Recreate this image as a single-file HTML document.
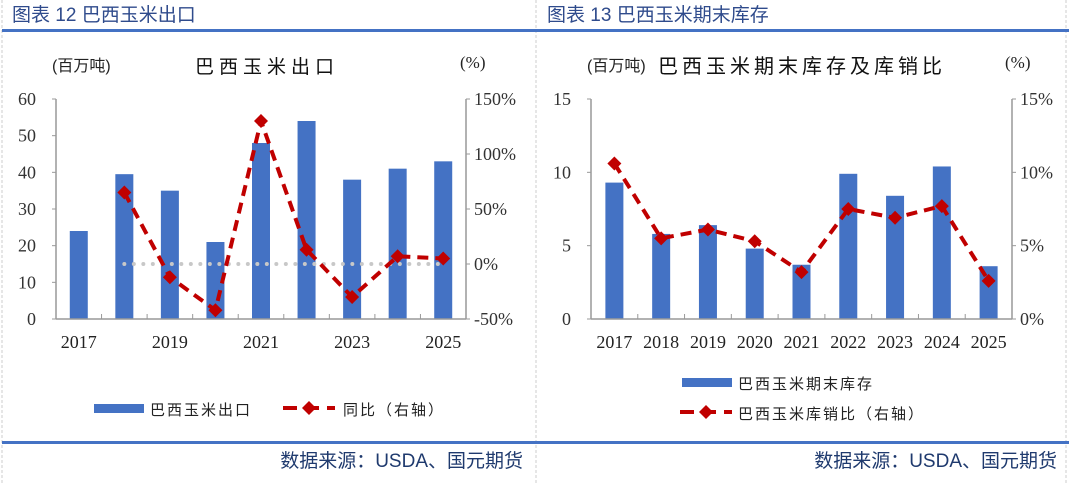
<!DOCTYPE html>
<html><head><meta charset="utf-8"><style>
body{margin:0;background:#fff;width:1069px;height:483px;overflow:hidden}
text{font-family:"Liberation Serif","Noto Serif CJK SC",serif}
.cn{font-family:"Liberation Sans","Noto Sans CJK SC",sans-serif}
</style></head><body>
<svg id="s" width="1069" height="483" xmlns="http://www.w3.org/2000/svg">
<line x1="2" y1="0" x2="2" y2="483" stroke="#ccc" stroke-dasharray="3,2"/>
<line x1="536" y1="0" x2="536" y2="483" stroke="#ccc" stroke-dasharray="3,2"/>
<line x1="1066" y1="0" x2="1066" y2="483" stroke="#ccc" stroke-dasharray="3,2"/>
<rect x="2" y="29" width="1067" height="3" fill="#4472c4"/>
<rect x="2" y="441" width="1067" height="3" fill="#4472c4"/>
<text class="cn" x="12" y="21" font-size="19" fill="#2f4b8c">图表 12  巴西玉米出口</text>
<text class="cn" x="547" y="21" font-size="19" fill="#2f4b8c">图表 13  巴西玉米期末库存</text>
<text class="cn" x="523" y="467" font-size="19" fill="#1f3a6e" text-anchor="end">数据来源：USDA、国元期货</text>
<text class="cn" x="1057" y="467" font-size="19" fill="#1f3a6e" text-anchor="end">数据来源：USDA、国元期货</text>
<g id="c1"></g><g id="c2"></g>
</svg>
<script>
const years=["2017","2018","2019","2020","2021","2022","2023","2024","2025"];
const exportVals=[24,39.5,35,21,48,54,38,41,43];
const exportYoy=[null,65,-12,-42,130,13,-30,7,5];
const stockVals=[9.3,5.8,6.4,4.8,3.7,9.9,8.4,10.4,3.6];
const stockRatio=[10.6,5.5,6.1,5.3,3.2,7.5,6.9,7.7,2.6];
const leftTicks1=[0,10,20,30,40,50,60];
const rightTicks1=[-50,0,50,100,150];
const leftTicks2=[0,5,10,15];
const rightTicks2=[0,5,10,15];
const NS="http://www.w3.org/2000/svg";
function mk(p,t,a,txt){const e=document.createElementNS(NS,t);for(const k in a)e.setAttribute(k,a[k]);if(txt!=null)e.textContent=txt;p.appendChild(e);return e;}
function chart(g,o){
 const x0=o.x0,x1=o.x1,yT=99,yB=319,n=years.length,cw=(x1-x0)/n;
 const yL=v=>yB-(v-o.lmin)/(o.lmax-o.lmin)*(yB-yT);
 const yR=v=>yB-(v-o.rmin)/(o.rmax-o.rmin)*(yB-yT);
 const xc=i=>x0+cw*(i+0.5);
 let e;
 e=mk(g,'line',{x1:x0,y1:yT,x2:x0,y2:yB,stroke:'#999','stroke-width':1.5});
 
 e=mk(g,'line',{x1:x1,y1:yT,x2:x1,y2:yB,stroke:'#999','stroke-width':1.5});
 
 o.lt.forEach(v=>{const y=yL(v);mk(g,'line',{x1:x0-4,y1:y,x2:x0,y2:y,stroke:'#999'});
  e=mk(g,'text',{x:x0-20,y:y+6,'font-size':18,fill:'#333','text-anchor':'end'},v);
  });
 o.rt.forEach(v=>{const y=yR(v);mk(g,'line',{x1:x1,y1:y,x2:x1+4,y2:y,stroke:'#999'});
  e=mk(g,'text',{x:x1+8,y:y+6,'font-size':18,fill:'#333'},v+'%');
  });
 for(let i=1;i<n;i++)mk(g,'line',{x1:x0+cw*i,y1:yB,x2:x0+cw*i,y2:yB-5,stroke:'#999'});
 o.vals.forEach((v,i)=>{e=mk(g,'rect',{x:xc(i)-9,y:yL(v),width:18,height:yB-yL(v),fill:'#4472c4'});
  });
 e=mk(g,'line',{x1:x0,y1:yB,x2:x1,y2:yB,stroke:'#999','stroke-width':1.5});
 
 years.forEach((y,i)=>{if(o.every||i%2==0){e=mk(g,'text',{x:xc(i),y:348,'font-size':18,fill:'#222','text-anchor':'middle'},y);
  }});
 if(o.zero){e=mk(g,'line',{x1:xc(1),y1:yR(0),x2:xc(n-1),y2:yR(0),stroke:'#c8c8c8','stroke-width':4,'stroke-linecap':'round','stroke-dasharray':'0,9.5'});
  }
 let pts=[];o.line.forEach((v,i)=>{if(v!=null)pts.push([xc(i),yR(v)]);});
 e=mk(g,'polyline',{points:pts.map(p=>p.join(',')).join(' '),fill:'none',stroke:'#c00000','stroke-width':4,'stroke-dasharray':'11,7'});
 
 pts.forEach(p=>{e=mk(g,'path',{d:`M${p[0]},${p[1]-7}L${p[0]+7},${p[1]}L${p[0]},${p[1]+7}L${p[0]-7},${p[1]}Z`,fill:'#c00000'});
  });
}
const c1=document.getElementById('c1'),c2=document.getElementById('c2');
chart(c1,{x0:56,x1:466,lmin:0,lmax:60,rmin:-50,rmax:150,lt:leftTicks1,rt:rightTicks1,vals:exportVals,line:exportYoy,every:false,zero:true});
chart(c2,{x0:591,x1:1012,lmin:0,lmax:15,rmin:0,rmax:15,lt:leftTicks2,rt:rightTicks2,vals:stockVals,line:stockRatio,every:true,zero:false});
let e;
e=mk(c1,'text',{x:52,y:71,'font-size':16,fill:'#222',class:'cn'},'(百万吨)');
e=mk(c1,'text',{x:267,y:73,'font-size':19,fill:'#111','text-anchor':'middle',class:'cn','letter-spacing':'5'},'巴西玉米出口');
e=mk(c1,'text',{x:460,y:68,'font-size':17,fill:'#222'},'(%)');
e=mk(c1,'rect',{x:94,y:404,width:50,height:9,fill:'#4472c4'});
e=mk(c1,'text',{x:150,y:415,'font-size':15,fill:'#222',class:'cn','letter-spacing':'2'},'巴西玉米出口');
e=mk(c1,'line',{x1:283,y1:408,x2:335,y2:408,stroke:'#c00000','stroke-width':4,'stroke-dasharray':'14,8'});
mk(c1,'path',{d:'M309,401L316,408L309,415L302,408Z',fill:'#c00000'});
e=mk(c1,'text',{x:343,y:415,'font-size':15,fill:'#222',class:'cn','letter-spacing':'2'},'同比（右轴）');
e=mk(c2,'text',{x:587,y:71,'font-size':16,fill:'#222',class:'cn'},'(百万吨)');
e=mk(c2,'text',{x:658,y:73,'font-size':20,fill:'#111',class:'cn','letter-spacing':'4'},'巴西玉米期末库存及库销比');
e=mk(c2,'text',{x:1005,y:68,'font-size':17,fill:'#222'},'(%)');
e=mk(c2,'rect',{x:682,y:378,width:50,height:9,fill:'#4472c4'});
e=mk(c2,'text',{x:738,y:389,'font-size':15,fill:'#222',class:'cn','letter-spacing':'2'},'巴西玉米期末库存');
e=mk(c2,'line',{x1:680,y1:412,x2:732,y2:412,stroke:'#c00000','stroke-width':4,'stroke-dasharray':'14,8'});
mk(c2,'path',{d:'M706,405L713,412L706,419L699,412Z',fill:'#c00000'});
e=mk(c2,'text',{x:738,y:419,'font-size':15,fill:'#222',class:'cn','letter-spacing':'2'},'巴西玉米库销比（右轴）');
</script>
</body></html>
